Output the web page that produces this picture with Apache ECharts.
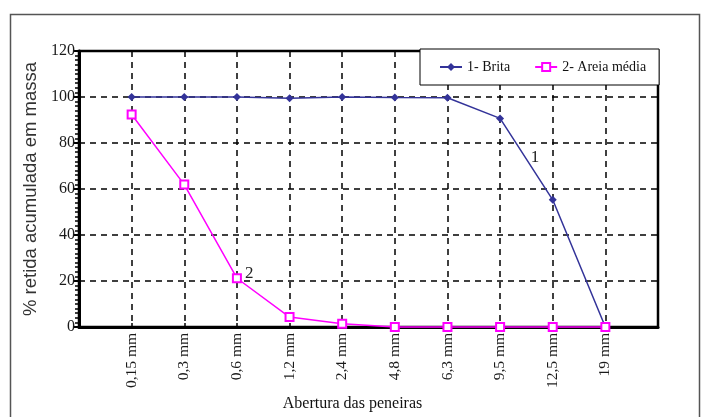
<!DOCTYPE html>
<html>
<head>
<meta charset="utf-8">
<script src="https://cdn.jsdelivr.net/npm/echarts@6/dist/echarts.min.js"></script>
<style>html,body{margin:0;padding:0;background:#fff}#c{width:702px;height:417px}</style>
</head>
<body>
<div id="c"></div>
<script>
var categories = ['', '0,15 mm', '0,3 mm', '0,6 mm', '1,2 mm', '2,4 mm', '4,8 mm', '6,3 mm', '9,5 mm', '12,5 mm', '19 mm', ''];
var brita = [null, 100, 100, 100, 99.5, 100, 99.8, 99.7, 90.7, 55.3, 0, null];
var areia = [null, 92.4, 61.9, 21.2, 4.3, 1.4, 0, 0, 0, 0, 0, null];
var yTicks = [0, 20, 40, 60, 80, 100, 120];
var seriesNames = ['1- Brita', '2- Areia média'];
var curveLabels = ['1', '2'];

var serif = 'Liberation Serif';
var chart = echarts.init(document.getElementById('c'), null, {renderer: 'canvas'});

function withLabel(arr, idx, text, opts) {
  return arr.map(function (v, i) {
    if (i !== idx) return v;
    return {value: v, label: Object.assign({show: true, formatter: text, color: '#222',
      fontFamily: serif, fontSize: 17}, opts)};
  });
}

chart.setOption({
  animation: false,
  backgroundColor: '#fff',
  graphic: [{
    type: 'rect', z: 0,
    shape: {x: 10.5, y: 14.5, width: 689, height: 430},
    style: {fill: 'none', stroke: '#555', lineWidth: 1.5}
  }],
  grid: {left: 79, right: 44, top: 51, bottom: 87, show: true,
    borderColor: '#000', borderWidth: 2.5, backgroundColor: 'transparent'},
  legend: {
    left: 420, top: 49,
    padding: [11, 13, 11, 19],
    itemGap: 24, itemWidth: 22, itemHeight: 10,
    backgroundColor: '#fff', borderColor: '#000', borderWidth: 1,
    textStyle: {fontFamily: serif, fontSize: 14, color: '#111'},
    data: seriesNames, z: 10
  },
  xAxis: {
    type: 'category', data: categories, boundaryGap: false,
    name: 'Abertura das peneiras', nameLocation: 'middle', nameGap: 67,
    nameTextStyle: {fontFamily: serif, fontSize: 16, color: '#111', padding: [0, 32, 0, 0]},
    axisLine: {lineStyle: {color: '#000', width: 3}},
    axisTick: {show: true, inside: true, length: 4, alignWithLabel: true, lineStyle: {color: '#000', width: 1.5}},
    axisLabel: {rotate: 90, fontFamily: serif, fontSize: 15.5, color: '#1a1a1a', margin: 6, interval: 0},
    splitLine: {show: true, lineStyle: {color: '#000', type: [6, 5], width: 1.5}}
  },
  yAxis: {
    type: 'value', min: 0, max: 120, interval: 20,
    name: '% retida acumulada em massa', nameLocation: 'middle', nameGap: 33,
    nameTextStyle: {fontFamily: 'Liberation Sans', fontSize: 18.5, color: '#333'},
    axisLine: {show: true, lineStyle: {color: '#000', width: 3}},
    axisTick: {show: true, inside: false, length: 5, lineStyle: {color: '#000', width: 2}},
    minorTick: {show: true, splitNumber: 10, length: 4, lineStyle: {color: '#000', width: 1.5}},
    axisLabel: {fontFamily: serif, fontSize: 16, color: '#1a1a1a', margin: 4,
      formatter: function (v) { return yTicks.indexOf(v) >= 0 ? String(v) : ''; }},
    splitLine: {show: true, lineStyle: {color: '#000', type: [6, 5], width: 1.5}}
  },
  series: [{
    name: seriesNames[0], type: 'line', clip: false, z: 3,
    data: withLabel(brita, 8, curveLabels[0], {position: 'inside', offset: [35, 39]}),
    symbol: 'diamond', symbolSize: 8,
    lineStyle: {color: '#333399', width: 1.5},
    itemStyle: {color: '#333399'}
  }, {
    name: seriesNames[1], type: 'line', clip: false, z: 4,
    data: withLabel(areia, 3, curveLabels[1], {position: 'right', distance: 3, offset: [0, -5]}),
    symbol: 'emptyRect', symbolSize: 8,
    lineStyle: {color: '#ff00ff', width: 1.5},
    itemStyle: {color: '#ff00ff', borderWidth: 1.5}
  }]
});
</script>
</body>
</html>
